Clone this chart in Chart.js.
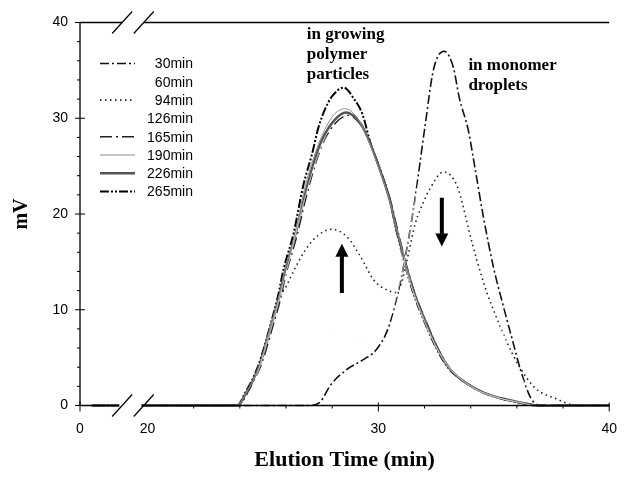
<!DOCTYPE html>
<html>
<head>
<meta charset="utf-8">
<script src="https://cdn.jsdelivr.net/npm/chart.js@4/dist/chart.umd.min.js"></script>
<style>
  html, body { margin: 0; padding: 0; background: #fff; }
  canvas { display: block; }
</style>
</head>
<body>
<canvas id="gpc" width="632" height="477"></canvas>
<script>
// elution traces, [time (min), signal (mV)]
const runLabels = ['30min', '60min', '94min', '126min', '165min', '190min', '226min', '265min'];

const run30 = [[3.5,0],[11.6,0],[18.3,0],[20,0],[24,0],[27.0,0],[27.45,0.3],[27.95,2.2],[28.6,3.7],[29.35,4.8],[29.9,5.8],[30.4,7.9],[30.75,10.8],[31.0,13.4],[31.35,18],[31.6,21.8],[32.0,28.8],[32.4,35.2],[32.85,37.0],[33.25,35.3],[33.5,32.2],[33.9,28.7],[34.2,24.6],[34.55,19.7],[34.98,14.5],[35.4,10.5],[35.8,6.9],[36.15,3.8],[36.6,0.8],[37.0,0],[40,0]];
const run60 = [[3.5,0],[11.6,0],[18.3,0],[20,0],[24.2,0],[25.5,1.5],[26.5,4.5],[27.5,7.0],[28.3,7.5],[29.2,6.5],[30.2,7.5],[31.0,13.5],[31.8,24],[32.8,31.5],[33.6,27],[34.5,16],[35.4,7.5],[36.3,2.5],[37.2,0.3],[37.6,0],[40,0]];
const run94 = [[3.5,0],[11.6,0],[18.3,0],[20,0],[23.9,0],[24.3,1.2],[24.8,4.2],[25.3,8.0],[25.7,11.2],[26.0,12.4],[26.3,13.9],[26.84,16.25],[27.4,17.8],[27.97,18.4],[28.65,17.6],[29.24,15.5],[29.8,13.1],[30.34,12.1],[30.76,11.8],[31.0,12.8],[31.27,15.5],[31.6,19],[32.0,21.5],[32.2,22.5],[32.83,24.4],[33.4,23.0],[33.65,21.0],[33.9,18.5],[34.3,14.9],[34.7,11.8],[35.15,9.0],[35.57,6.6],[36.1,4.1],[36.8,1.8],[37.7,0.7],[38.1,0.3],[38.5,0],[40,0]];
const run126 = [[3.5,0],[11.6,0],[18.3,0],[20,0],[24,0],[24.6,2.3],[25.3,7.6],[26.0,13.8],[26.8,21.5],[27.5,26.8],[28.2,29.2],[28.7,29.5],[29.3,28.2],[30.0,24],[30.7,18.3],[31.4,12.6],[32.2,7.6],[33.0,4.2],[34.0,2.0],[35.2,0.8],[36.2,0.3],[36.8,0],[40,0]];
const run165 = [[3.5,0],[11.6,0],[18.3,0],[20,0],[23.95,0],[24.3,1.2],[24.6,2.5],[24.95,4.4],[25.4,8.0],[25.75,11.0],[26.0,13.7],[26.45,17.5],[26.9,22],[27.3,25.4],[27.65,27.6],[28.15,29.5],[28.7,30.3],[29.3,29.1],[29.7,27.1],[30.15,24.2],[30.55,21.2],[30.85,18.2],[31.25,14.4],[31.6,11.6],[32.05,8.9],[32.6,5.9],[33.15,3.7],[33.8,2.4],[34.7,1.2],[35.7,0.5],[36.5,0.2],[37.0,0],[40,0]];
const run190 = [[3.5,0],[11.6,0],[18.3,0],[20,0],[23.9,0],[24.25,1.2],[24.55,2.5],[24.9,4.5],[25.3,8.1],[25.7,11.3],[25.95,14.1],[26.4,17.9],[26.8,22.6],[27.2,25.9],[27.6,28.4],[28.05,30.3],[28.55,31.0],[29.1,30.0],[29.55,27.8],[30.05,24.6],[30.45,21.7],[30.8,18.4],[31.2,14.7],[31.5,12.0],[31.95,9.2],[32.5,6.1],[33.05,3.9],[33.7,2.6],[34.5,1.4],[35.5,0.6],[36.3,0.2],[36.8,0],[40,0]];
const run226 = [[3.5,0],[11.6,0],[18.3,0],[20,0],[23.9,0],[24.25,1.2],[24.55,2.5],[24.9,4.5],[25.35,8.2],[25.7,11.3],[25.95,14],[26.4,17.8],[26.85,22.3],[27.26,25.8],[27.55,27.7],[28.1,29.8],[28.6,30.6],[29.24,29.4],[29.66,27.3],[30.1,24.4],[30.5,21.4],[30.8,18.3],[31.2,14.6],[31.55,11.8],[32.0,9.0],[32.55,6.0],[33.1,3.8],[33.7,2.5],[34.6,1.3],[35.6,0.6],[36.4,0.2],[36.9,0],[40,0]];
const run265 = [[3.5,0],[11.6,0],[18.3,0],[20,0],[23.9,0],[24.2,1.2],[24.5,2.5],[24.85,4.5],[25.3,8.2],[25.65,11.4],[25.9,14.3],[26.33,18],[26.75,23],[27.13,26.3],[27.4,29],[27.7,31],[28.0,32.3],[28.5,33.2],[28.95,32],[29.3,30.5],[29.66,27.4],[30.08,24.6],[30.5,21.5],[30.76,18.5],[31.14,14.8],[31.48,12],[31.9,9.3],[32.45,6.3],[33.0,4.0],[33.6,2.7],[34.5,1.4],[35.5,0.6],[36.3,0.2],[36.8,0],[40,0]];
const runData = [run30, run60, run94, run126, run165, run190, run226, run265];

const xTickValues = [0, 20, 30, 40];
const yTickValues = [0, 10, 20, 30, 40];

// line looks per trace (60 and 126 min do not show in the print)
const lineColors = ['#111', '#fcfcfc', '#222', '#fcfcfc', '#222', '#8a8a8a', '#555', '#000'];
const lineWidths = [1.6, 0.6, 1.6, 0.6, 1.4, 1, 2.4, 2];
const lineDashes = [[9,3,2,3], [], [1.5,3.5], [], [12,4,2,4], [], [], [9,2,2,2,2,2]];

// broken axis: 0..20 min squeezed into a short stub left of 20
const D0 = 20 - 69 / 23.6;
const breakGap = [11.6, 18.3];
function toDisplay(t) {
  return t <= 20 ? D0 + t * (20 - D0) / 20 : t;
}

const datasets = runLabels.map((label, i) => {
  const pts = [];
  let prev = null;
  runData[i].forEach(([t, v]) => {
    if (prev !== null && prev <= breakGap[0] && t >= breakGap[1]) {
      pts.push({ x: toDisplay((prev + t) / 2), y: null });
    }
    pts.push({ x: toDisplay(t), y: v });
    prev = t;
  });
  return {
    label: label,
    data: pts,
    borderColor: lineColors[i],
    borderWidth: lineWidths[i],
    borderDash: lineDashes[i],
    pointRadius: 0,
    fill: false,
    spanGaps: false,
    cubicInterpolationMode: 'monotone',
    clip: 4
  };
});
// lighter traces at the back
const order = [1, 3, 5, 6, 4, 2, 0, 7];
const sortedSets = order.map(i => datasets[i]);

const sans = 'Liberation Sans, Arial, sans-serif';
const serif = 'Liberation Serif, Times New Roman, serif';

const axesPlugin = {
  id: 'brokenAxes',
  afterDatasetsDraw(chart) {
    const { ctx, chartArea: a, scales: { x, y } } = chart;
    const g0 = x.getPixelForValue(toDisplay(breakGap[0]));
    const g1 = x.getPixelForValue(toDisplay(breakGap[1]));
    ctx.save();
    ctx.strokeStyle = '#000';
    ctx.lineWidth = 1.3;
    ctx.setLineDash([]);
    ctx.beginPath();
    // left axis
    ctx.moveTo(a.left, a.top); ctx.lineTo(a.left, a.bottom);
    // bottom and top, with the break gap
    ctx.moveTo(a.left, a.bottom); ctx.lineTo(g0, a.bottom);
    ctx.moveTo(g1, a.bottom); ctx.lineTo(a.right, a.bottom);
    ctx.moveTo(a.left, a.top); ctx.lineTo(g0 + 3, a.top);
    ctx.moveTo(g1 + 2, a.top); ctx.lineTo(a.right, a.top);
    ctx.stroke();

    // break slashes
    ctx.lineWidth = 1.2;
    ctx.beginPath();
    [a.top, a.bottom].forEach(yy => {
      [g0 + 3, g1 + 2].forEach(xx => {
        ctx.moveTo(xx - 10, yy + 11);
        ctx.lineTo(xx + 10, yy - 11);
      });
    });
    ctx.stroke();

    // y ticks, minor every 2 mV
    ctx.lineWidth = 1;
    ctx.beginPath();
    for (let v = 0; v <= 40; v += 2) {
      const py = y.getPixelForValue(v);
      if (v % 10 === 0) { ctx.moveTo(a.left - 5, py); ctx.lineTo(a.left + 5, py); }
      else { ctx.moveTo(a.left - 3, py); ctx.lineTo(a.left, py); }
    }
    // x ticks
    const px0 = x.getPixelForValue(toDisplay(0));
    ctx.moveTo(px0, a.bottom - 4); ctx.lineTo(px0, a.bottom + 6);
    for (let t = 22; t <= 40; t += 2) {
      const px = x.getPixelForValue(t);
      if (t % 10 === 0) { ctx.moveTo(px, a.bottom - 3); ctx.lineTo(px, a.bottom + 6); }
      else { ctx.moveTo(px, a.bottom); ctx.lineTo(px, a.bottom + 3); }
    }
    ctx.stroke();
    ctx.restore();
  }
};

const notesPlugin = {
  id: 'notes',
  afterDatasetsDraw(chart) {
    const { ctx, chartArea: a, scales: { x, y } } = chart;
    ctx.save();
    // legend
    ctx.font = '14px ' + sans;
    ctx.fillStyle = '#000';
    ctx.textAlign = 'right';
    ctx.textBaseline = 'middle';
    runLabels.forEach((label, i) => {
      const ry = a.top + 41 + i * 18.3;
      ctx.strokeStyle = lineColors[i];
      ctx.lineWidth = lineWidths[i];
      ctx.setLineDash(lineDashes[i]);
      ctx.beginPath();
      ctx.moveTo(a.left + 20, ry); ctx.lineTo(a.left + 55, ry);
      ctx.stroke();
      ctx.fillText(label, a.left + 113, ry + 1);
    });
    ctx.setLineDash([]);

    // annotations
    ctx.font = 'bold 17px ' + serif;
    ctx.textAlign = 'left';
    ctx.textBaseline = 'alphabetic';
    const gx = x.getPixelForValue(26.9);
    ['in growing', 'polymer', 'particles'].forEach((s, i) => ctx.fillText(s, gx, a.top + 16 + i * 20));
    const mx = x.getPixelForValue(33.9);
    ['in monomer', 'droplets'].forEach((s, i) => ctx.fillText(s, mx, a.top + 47.5 + i * 19.5));

    // arrows
    function arrow(t, fromV, toV) {
      const px = x.getPixelForValue(t);
      const p0 = y.getPixelForValue(fromV);
      const p1 = y.getPixelForValue(toV);
      const dir = p1 < p0 ? 1 : -1;
      ctx.strokeStyle = '#000';
      ctx.lineWidth = 4;
      ctx.beginPath();
      ctx.moveTo(px, p0); ctx.lineTo(px, p1 + dir * 10);
      ctx.stroke();
      ctx.beginPath();
      ctx.moveTo(px, p1);
      ctx.lineTo(px - 6.5, p1 + dir * 13);
      ctx.lineTo(px + 6.5, p1 + dir * 13);
      ctx.closePath();
      ctx.fill();
    }
    arrow(28.42, 11.75, 16.9);
    arrow(32.75, 21.7, 16.6);
    ctx.restore();
  }
};

new Chart(document.getElementById('gpc'), {
  type: 'line',
  data: { datasets: sortedSets },
  options: {
    responsive: false,
    animation: false,
    layout: { padding: { left: 0, right: 11, top: 22.5, bottom: 0 } },
    plugins: { legend: { display: false }, tooltip: { enabled: false } },
    scales: {
      x: {
        type: 'linear',
        min: D0,
        max: 40,
        afterFit: s => { s.height = 71.5; },
        afterBuildTicks: s => { s.ticks = xTickValues.map(v => ({ value: toDisplay(v) })); },
        ticks: {
          autoSkip: false,
          maxRotation: 0,
          padding: 15,
          color: '#000',
          font: { family: sans, size: 14 },
          callback: v => {
            const hit = xTickValues.find(t => Math.abs(toDisplay(t) - v) < 1e-6);
            return hit === undefined ? '' : String(hit);
          }
        },
        grid: { display: false, drawTicks: false },
        border: { display: false },
        title: {
          display: true,
          text: 'Elution Time (min)',
          color: '#000',
          font: { family: serif, size: 22, weight: 'bold' },
          padding: { top: 0, bottom: 3 }
        }
      },
      y: {
        min: 0,
        max: 40,
        afterFit: s => { s.width = 80; },
        afterBuildTicks: s => { s.ticks = yTickValues.map(v => ({ value: v })); },
        ticks: {
          padding: 12,
          color: '#000',
          font: { family: sans, size: 14 },
        },
        grid: { display: false, drawTicks: false },
        border: { display: false },
        title: {
          display: true,
          text: 'mV',
          color: '#000',
          font: { family: serif, size: 20, weight: 'bold' },
          padding: { top: 10, bottom: 0 }
        }
      }
    }
  },
  plugins: [axesPlugin, notesPlugin]
});
</script>
</body>
</html>
